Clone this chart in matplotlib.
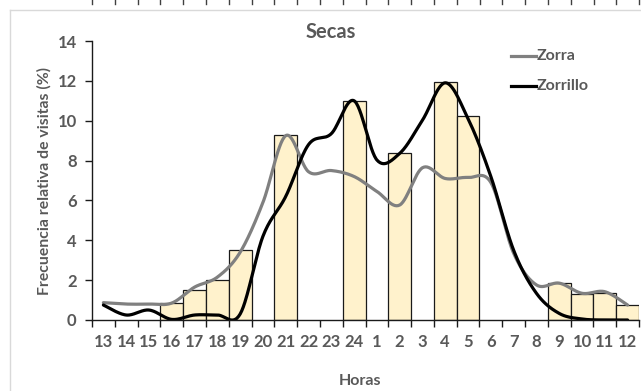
import numpy as np
import matplotlib
matplotlib.use("Agg")
import matplotlib.pyplot as plt
from matplotlib.lines import Line2D

hours = ["13", "14", "15", "16", "17", "18", "19", "20", "21", "22", "23", "24",
         "1", "2", "3", "4", "5", "6", "7", "8", "9", "10", "11", "12"]
nan = np.nan
bar_values = [nan, nan, nan, 0.87, 1.5, 2.02, 3.53, nan, 9.27, nan, nan, 11.0,
              nan, 8.36, nan, 11.96, 10.25, nan, nan, nan, 1.87, 1.3, 1.34, 0.75]
zorra = [0.87, 0.8, 0.8, 0.85, 1.65, 2.15, 3.4, 5.9, 9.25, 7.44, 7.5, 7.2,
         6.45, 5.77, 7.64, 7.1, 7.15, 6.9, 3.35, 1.76, 1.85, 1.34, 1.42, 0.75]
zorrillo = [0.75, 0.25, 0.5, 0.03, 0.25, 0.25, 0.3, 4.2, 6.2, 8.8, 9.35, 11.0,
            8.03, 8.36, 10.03, 11.9, 10.1, 7.2, 3.5, 1.34, 0.33, 0.05, 0.0, 0.0]

FONT = ["Lato", "DejaVu Sans"]
GRAY_TXT = "#595959"
plt.rcParams["font.family"] = FONT
plt.rcParams["font.weight"] = "bold"


def smooth(xs, ys, n=30):
    xs = np.asarray(xs, float)
    ys = np.asarray(ys, float)
    P = np.column_stack([xs, ys])
    P = np.vstack([P[0], P, P[-1]])
    out = []
    t = np.linspace(0, 1, n)[:, None]
    for i in range(1, len(P) - 2):
        p0, p1, p2, p3 = P[i - 1], P[i], P[i + 1], P[i + 2]
        b1 = p1 + (p2 - p0) / 6.0
        b2 = p2 - (p3 - p1) / 6.0
        seg = ((1 - t) ** 3) * p1 + 3 * ((1 - t) ** 2) * t * b1 + 3 * (1 - t) * t ** 2 * b2 + t ** 3 * p2
        out.append(seg if i == 1 else seg[1:])
    out = np.vstack(out)
    return out[:, 0], out[:, 1]


W, H = 641, 391
fig = plt.figure(figsize=(W / 100, H / 100), dpi=100)
ax = fig.add_axes([92 / W, (H - 320) / H, 547 / W, 279 / H])

x = np.arange(len(hours)) + 0.5
bv = np.array(bar_values, float)
mask = ~np.isnan(bv)
ax.bar(x[mask], bv[mask], width=1.0, color="#FFF2CC", edgecolor="#1a1a1a", linewidth=0.9, zorder=2)

sx, sy = smooth(x, zorra)
ax.plot(sx, sy, color="#808080", lw=2.3, zorder=3, solid_capstyle="round")
sx, sy = smooth(x, zorrillo)
ax.plot(sx, sy, color="black", lw=2.3, zorder=4, solid_capstyle="round")

ax.set_xlim(0, 24)
ax.set_ylim(0, 14)
ax.set_yticks(np.arange(0, 15, 2))
ax.set_xticks(x)
ax.set_xticklabels(hours)
ax.set_xticks(np.arange(0, 25), minor=True)
ax.tick_params(axis="x", which="major", length=0, pad=10, labelsize=12, labelcolor=GRAY_TXT)
ax.tick_params(axis="x", which="minor", length=5, width=1, direction="out", color="#1a1a1a")
ax.tick_params(axis="y", length=5, width=1, direction="out", pad=6, labelsize=12,
               labelcolor=GRAY_TXT, color="#1a1a1a")
for lab in ax.get_xticklabels() + ax.get_yticklabels():
    lab.set_fontweight("bold")
for s in ["top", "right"]:
    ax.spines[s].set_visible(False)
for s in ["left", "bottom"]:
    ax.spines[s].set_color("#1a1a1a")
    ax.spines[s].set_linewidth(1.0)
ax.spines["bottom"].set_zorder(5)
ax.set_facecolor("none")

fig.text(331 / W, 1 - 32 / H, "Secas", ha="center", va="center", fontsize=14.5,
         fontweight="bold", color=GRAY_TXT)
fig.text(44 / W, 1 - 181 / H, "Frecuencia relativa de visitas (%)", ha="center", va="center",
         rotation=90, fontsize=11.3, fontweight="bold", color=GRAY_TXT)
fig.text(360 / W, 1 - 381 / H, "Horas", ha="center", va="center", fontsize=11.5,
         fontweight="bold", color=GRAY_TXT)

# legend
for yy, col, name in [(56, "#808080", "Zorra"), (86, "black", "Zorrillo")]:
    fig.add_artist(Line2D([511 / W, 536 / W], [1 - yy / H, 1 - yy / H], color=col, lw=2.3))
    fig.text(537 / W, 1 - yy / H, name, ha="left", va="center", fontsize=11.5,
             fontweight="bold", color=GRAY_TXT)

# chart frame lines (light gray)
fig.add_artist(Line2D([9.5 / W, 1.0], [1 - 9.5 / H, 1 - 9.5 / H], color="#d9d9d9", lw=1))
fig.add_artist(Line2D([9.5 / W, 9.5 / W], [0, 1 - 9.5 / H], color="#d9d9d9", lw=1))
# tick marks of the chart above (cut off)
for k in range(25):
    xx = (92 + k * 22.8) / W
    fig.add_artist(Line2D([xx, xx], [1.0, 1 - 4 / H], color="#404040", lw=1))

fig.savefig("out.png", dpi=100)
